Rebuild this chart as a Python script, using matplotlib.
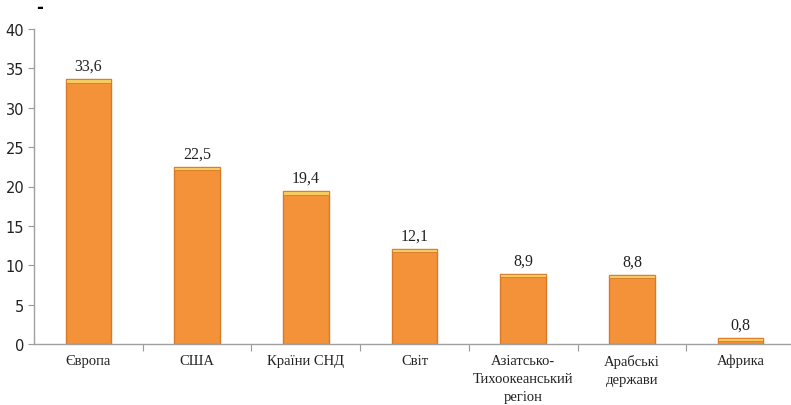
import numpy as np
import matplotlib
matplotlib.use('Agg')
import matplotlib.pyplot as plt

regions = ['Європа', 'США', 'Країни СНД', 'Світ',
           'Азіатсько-\nТихоокеанський\nрегіон', 'Арабські\nдержави', 'Африка']
values = [33.6, 22.5, 19.4, 12.1, 8.9, 8.8, 0.8]
value_labels = ['33,6', '22,5', '19,4', '12,1', '8,9', '8,8', '0,8']
yticks = [0, 5, 10, 15, 20, 25, 30, 35, 40]

fig = plt.figure(figsize=(7.91, 4.06), dpi=100)
ax = fig.add_axes([34/791, 61/406, 761/791, 315/406])

x = np.arange(len(values))
w = 0.42
ax.bar(x, values, w, color='#F4923A', edgecolor='#D8792A', linewidth=1.0, zorder=2)
# light bevel on top of each bar
cap = [min(0.45, v * 0.5) for v in values]
ax.bar(x, cap, w, bottom=np.array(values) - np.array(cap),
       color='#F8CB62', edgecolor='#D8792A', linewidth=0.6, zorder=3)

for xi, v, lab in zip(x, values, value_labels):
    ax.annotate(lab, (xi, v), xytext=(0, 4), textcoords='offset points',
                ha='center', va='bottom', fontsize=11.5,
                family='Liberation Serif', color='#222222')

ax.set_xlim(-0.5, 6.5)
ax.set_ylim(0, 40)
ax.set_yticks(yticks)
ax.set_yticklabels([str(t) for t in yticks], fontsize=10.5, family='DejaVu Sans',
                   color='#222222')
ax.set_xticks(x + 0.5, minor=False)
ax.set_xticklabels([])
ax.set_xticks(x, minor=True)
ax.set_xticklabels(regions, minor=True, fontsize=10.5, family='Liberation Serif',
                   color='#222222', linespacing=1.5)
ax.tick_params(axis='x', which='minor', length=0, pad=7)
ax.tick_params(axis='x', which='major', length=5, color='#999999', direction='out')
ax.tick_params(axis='y', length=4, color='#999999', direction='out', pad=3)

for s in ['top', 'right']:
    ax.spines[s].set_visible(False)
for s in ['left', 'bottom']:
    ax.spines[s].set_color('#A0A0A0')
    ax.spines[s].set_linewidth(1.0)

fig.text(40/791, 1 - 8/406, '-', fontsize=12, fontweight='bold', ha='center', va='center')

fig.savefig('out.png', dpi=100)
